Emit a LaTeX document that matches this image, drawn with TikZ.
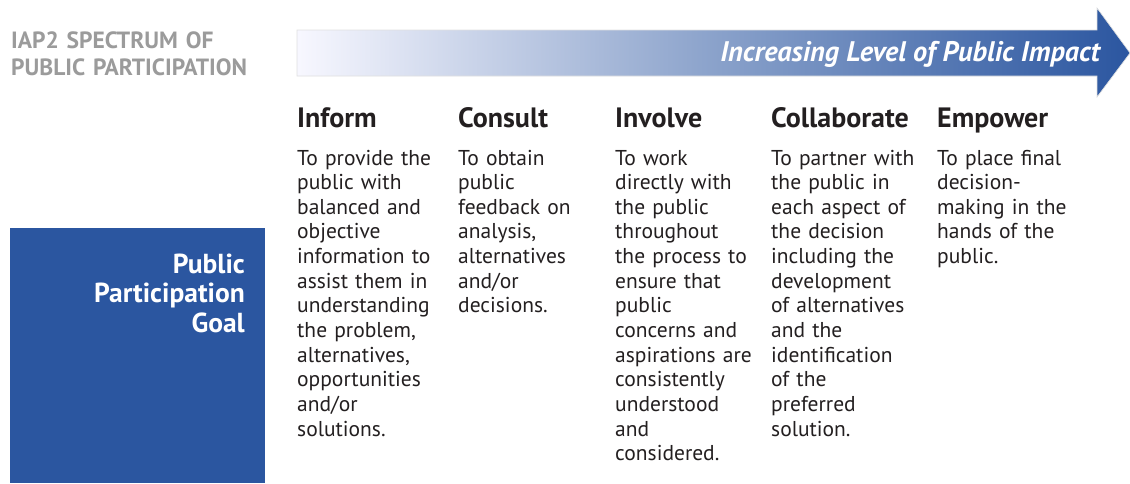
\documentclass[tikz,border=0pt]{standalone}
\usepackage{fontspec}
\setmainfont{PT Sans}
\definecolor{iapblue}{RGB}{43,86,160}
\definecolor{iapgray}{RGB}{155,155,155}
\definecolor{bodyink}{RGB}{35,31,32}
\tikzset{
  coltitle/.style={anchor=base west, inner sep=0pt, text=bodyink,
    font=\fontsize{28}{32}\selectfont\bfseries},
  colbody/.style={anchor=base west, inner sep=0pt, text=bodyink, align=left,
    text width=200pt, font=\fontsize{21.5}{24.65}\selectfont},
}
\begin{document}
\begin{tikzpicture}[x=1pt, y=-1pt]
  \useasboundingbox (0,0) rectangle (1130,483);
  \fill[white] (0,0) rectangle (1130,483);

  % heading
  \node[anchor=base west, inner sep=0pt, text=iapgray, align=left, text width=300pt,
        font=\fontsize{23.5}{27}\selectfont\bfseries] (title) at (11,48)
        {IAP2 SPECTRUM OF\\PUBLIC PARTICIPATION};

  % shaded impact arrow with a faint outline
  \shade[draw=black!12, line width=0.6pt,
         left color=blue!3!white, right color=iapblue, middle color=iapblue!55!white]
    (297,30) -- (1097,30) -- (1097,8) -- (1130,53) -- (1097,97) -- (1097,76)
    -- (297,76) -- cycle;
  \node[anchor=base east, inner sep=0pt, text=white,
        font=\fontsize{28.3}{30}\selectfont\bfseries\itshape] (impact) at (1100,61)
        {Increasing Level of Public Impact};

  % goal box
  \fill[iapblue] (10,228) rectangle (265,483);
  \node[anchor=base east, inner sep=0pt, text=white, align=right, text width=240pt,
        font=\fontsize{27.5}{29.5}\selectfont\bfseries] (goal) at (245,273)
        {Public\\Participation\\Goal};

  % columns
  \node[coltitle] (inform) at (297,127) {Inform};
  \node[coltitle] (consult) at (458,127) {Consult};
  \node[coltitle] (involve) at (615,127) {Involve};
  \node[coltitle] (collab) at (771,127) {Collaborate};
  \node[coltitle] (empower) at (937,127) {Empower};

  \node[colbody] (informtxt) at (297,165) {To provide the\\public with\\balanced and\\objective\\information to\\assist them in\\understanding\\the problem,\\alternatives,\\opportunities\\and/or\\solutions.};
  \node[colbody] (consulttxt) at (458,165) {To obtain\\public\\feedback on\\analysis,\\alternatives\\and/or\\decisions.};
  \node[colbody] (involvetxt) at (615,165) {To work\\directly with\\the public\\throughout\\the process to\\ensure that\\public\\concerns and\\aspirations are\\consistently\\understood\\and\\considered.};
  \node[colbody] (collabtxt) at (771,165) {To partner with\\the public in\\each aspect of\\the decision\\including the\\development\\of alternatives\\and the\\identification\\of the\\preferred\\solution.};
  \node[colbody] (empowertxt) at (937,165) {To place final\\decision-\\making in the\\hands of the\\public.};
\end{tikzpicture}
\end{document}
